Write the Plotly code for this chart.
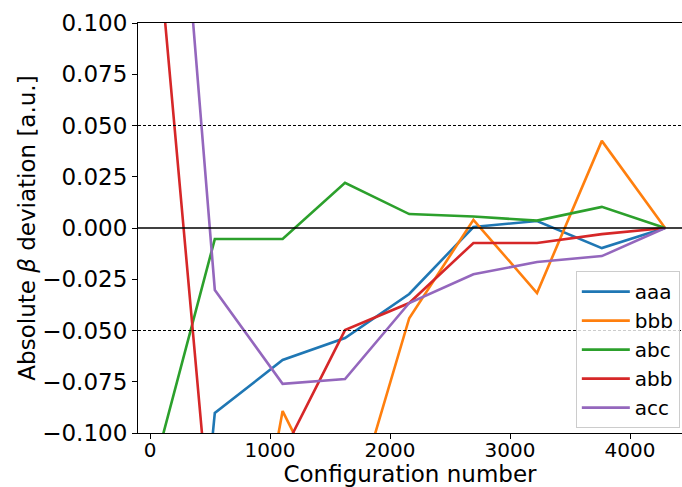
import plotly.graph_objects as go

configs = [110, 540, 1105, 1625, 2160, 2695, 3225, 3765, 4292]
names = ["aaa", "bbb", "abc", "abb", "acc"]
aaa = [-0.35, -0.0902, -0.0644, -0.0537, -0.0322, 0.0005, 0.0034, -0.0098, 0.0]
bbb = [-0.27, -0.27, -0.0893, -0.150, -0.0440, 0.0040, -0.0317, 0.0425, 0.0]
abc = [-0.1005, -0.0054, -0.0054, 0.0220, 0.0068, 0.0056, 0.0036, 0.0103, 0.0]
abb = [0.111, -0.170, -0.110, -0.0498, -0.0366, -0.0073, -0.0073, -0.0030, 0.0]
acc = [0.28, -0.0302, -0.0760, -0.0737, -0.0366, -0.0226, -0.0166, -0.0137, 0.0]
series = [aaa, bbb, abc, abb, acc]
colors = ["#1f77b4", "#ff7f0e", "#2ca02c", "#d62728", "#9467bd"]
yticks = [-0.1, -0.075, -0.05, -0.025, 0.0, 0.025, 0.05, 0.075, 0.1]
xticks = [0, 1000, 2000, 3000, 4000]

fig = go.Figure()
for n, s, c in zip(names, series, colors):
    fig.add_trace(go.Scatter(x=configs, y=s, mode="lines", name=n,
                             line=dict(color=c, width=2.6)))

fig.add_hline(y=0, line=dict(color="black", width=1.5))
fig.add_hline(y=0.05, line=dict(color="black", width=1.2, dash="3px,2px"))
fig.add_hline(y=-0.05, line=dict(color="black", width=1.2, dash="3px,2px"))

font = "DejaVu Sans"
fig.update_layout(
    width=682, height=487,
    margin=dict(l=138, r=0, t=23, b=54, autoexpand=False),
    plot_bgcolor="white", paper_bgcolor="white",
    font=dict(family=font, color="black"),
    xaxis=dict(range=[-100, 4433], tickvals=xticks, ticks="outside", ticklen=5,
               tickcolor="black", showline=True, linecolor="black", linewidth=1.1,
               mirror=True, showgrid=False, zeroline=False, automargin=False,
               ticklabelstandoff=-6,
               tickfont=dict(size=20, family=font),
               title=dict(text="Configuration number", font=dict(size=23, family=font),
                          standoff=0)),
    yaxis=dict(range=[-0.1, 0.1], tickvals=yticks, tickformat=".3f", ticks="outside",
               ticklen=5, tickcolor="black", showline=True, linecolor="black",
               linewidth=1.1, showgrid=False, zeroline=False, automargin=False,
               tickfont=dict(size=23, family=font),
               title=dict(text="Absolute <i>β</i> deviation [a.u.]",
                          font=dict(size=23, family=font), standoff=0)),
    legend=dict(x=0.996, y=0.012, xanchor="right", yanchor="bottom",
                bgcolor="rgba(255,255,255,0.8)", bordercolor="#cccccc", borderwidth=1,
                font=dict(size=20, family=font), tracegroupgap=0, itemwidth=48),
    showlegend=True,
)

fig.write_html("out.html", config={"displayModeBar": False},
               post_script="document.body.style.margin='0';")
